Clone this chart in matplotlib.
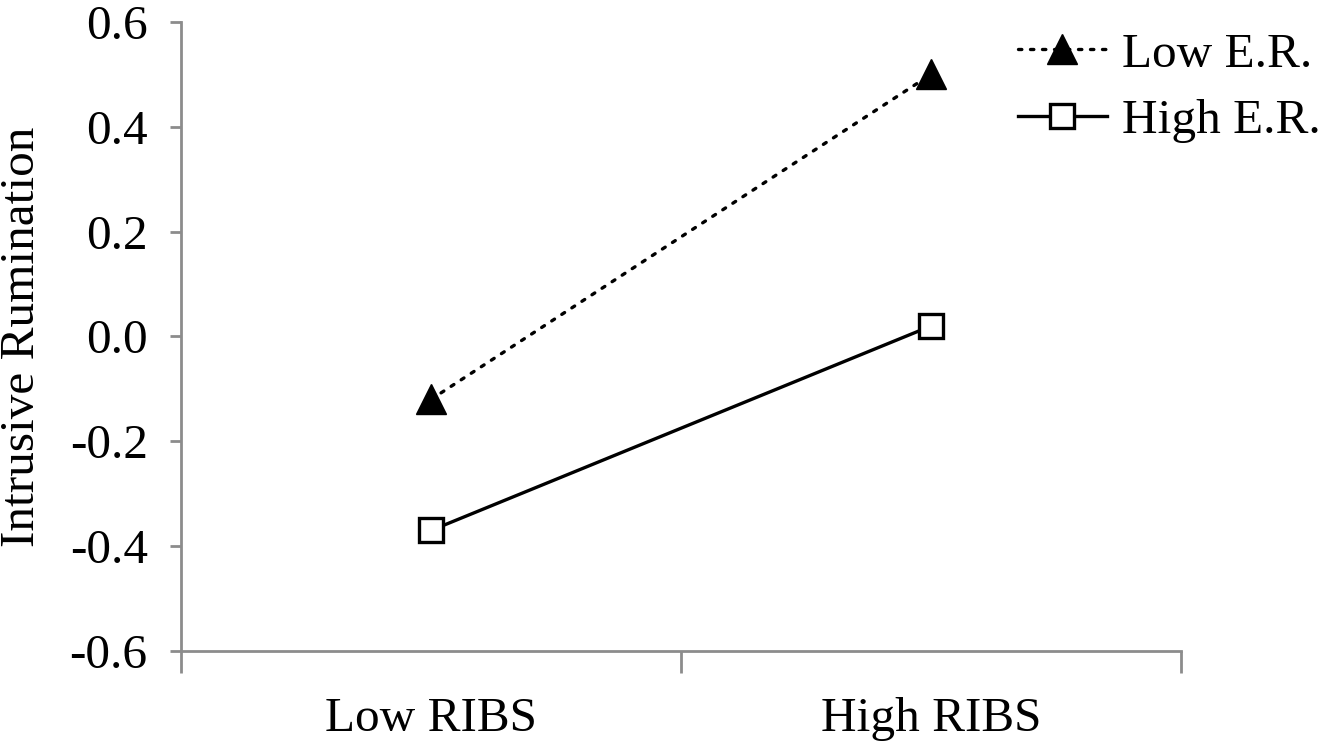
import matplotlib
matplotlib.use("Agg")
import matplotlib.pyplot as plt
import numpy as np

categories = ["Low RIBS", "High RIBS"]
low_er = [-0.12, 0.50]
high_er = [-0.37, 0.02]
yticks = [-0.6, -0.4, -0.2, 0.0, 0.2, 0.4, 0.6]
ytick_labels = ["-0.6", "-0.4", "-0.2", "0.0", "0.2", "0.4", "0.6"]

plt.rcParams['font.family'] = ['Liberation Serif', 'DejaVu Serif']
FS = 35.5
axis_color = '#8c8c8c'

fig = plt.figure(figsize=(13.23, 7.47), dpi=100)
W, H = 1323, 747
ax = fig.add_axes([181 / W, 1 - 651 / H, 1000 / W, (651 - 22) / H])

x = np.arange(len(categories)) + 0.5
ax.plot(x, low_er, color='black', linestyle=(0, (1, 2.6)), linewidth=2.4,
        dash_capstyle='round', marker='^', markersize=21, markerfacecolor='black',
        markeredgecolor='black', markeredgewidth=1, label='Low E.R.')
ax.plot(x, high_er, color='black', linestyle='-', linewidth=2.4,
        marker='s', markersize=17.5, markerfacecolor='white',
        markeredgecolor='black', markeredgewidth=2.4, label='High E.R.')

ax.set_xlim(0, 2)
ax.set_ylim(-0.6, 0.6)
ax.set_yticks(yticks)
ax.set_yticklabels(ytick_labels, fontsize=FS)
ax.set_xticks([0, 1, 2])
ax.set_xticklabels([])
ax.set_xticks(x, minor=True)
ax.set_xticklabels(categories, minor=True, fontsize=FS)
ax.tick_params(axis='x', which='major', length=16, width=2, color=axis_color, direction='out')
ax.tick_params(axis='x', which='minor', length=0, pad=33)
ax.tick_params(axis='y', which='major', length=8, width=2, color=axis_color, direction='out', pad=16)

for s in ['top', 'right']:
    ax.spines[s].set_visible(False)
for s in ['left', 'bottom']:
    ax.spines[s].set_color(axis_color)
    ax.spines[s].set_linewidth(2)

ax.set_ylabel("Intrusive Rumination", fontsize=FS)
ax.yaxis.set_label_coords((44 - 181) / 1000, 0.5)

leg = ax.legend(loc='upper left', bbox_to_anchor=(1018 / W, 1 - 32 / H),
                bbox_transform=fig.transFigure, frameon=False, fontsize=FS,
                handlelength=1.8, handletextpad=0.3, labelspacing=0.45,
                borderpad=0, borderaxespad=0)

fig.savefig("out.png", dpi=100)
